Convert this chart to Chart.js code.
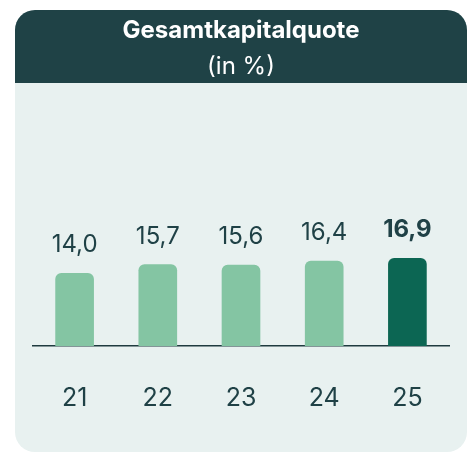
<!DOCTYPE html>
<html>
<head>
<meta charset="utf-8">
<script src="https://cdn.jsdelivr.net/npm/chart.js@4.4.0/dist/chart.umd.min.js"></script>
<style>
  html, body { margin: 0; padding: 0; background: #ffffff; }
  #wrap { width: 474px; height: 452px; }
</style>
</head>
<body>
<div id="wrap"><canvas id="quoteChart" width="474" height="452"></canvas></div>
<script>
var years = ["21", "22", "23", "24", "25"];
var quote = [14.0, 15.7, 15.6, 16.4, 16.9];
var barColors = ['#84c5a3', '#84c5a3', '#84c5a3', '#84c5a3', '#0c6653'];

var textColor = '#1f4146';

function fmt(v) {
    return v.toFixed(1).replace('.', ',');
}

// card background with dark header
var cardPlugin = {
    id: 'card',
    beforeDraw: function (chart) {
        var c = chart.ctx;
        c.save();
        c.beginPath();
        c.roundRect(15, 10, 452, 442, 20);
        c.fillStyle = '#e8f1f0';
        c.fill();
        c.beginPath();
        c.roundRect(15, 10, 452, 73, [20, 20, 0, 0]);
        c.fillStyle = '#1f4246';
        c.fill();
        c.restore();
    }
};

// value labels on top of the bars
var valuePlugin = {
    id: 'values',
    afterDatasetsDraw: function (chart) {
        var c = chart.ctx;
        var meta = chart.getDatasetMeta(0);
        c.save();
        c.fillStyle = textColor;
        c.textAlign = 'center';
        c.textBaseline = 'alphabetic';
        meta.data.forEach(function (bar, i) {
            var last = i === quote.length - 1;
            c.font = (last ? 'bold ' : '') + '24px Inter';
            c.fillText(fmt(quote[i]), bar.x, bar.y - 21);
        });
        c.restore();
    }
};

var ctx = document.getElementById('quoteChart').getContext('2d');

var chart = new Chart(ctx, {
    type: 'bar',
    data: {
        labels: years,
        datasets: [{
            data: quote,
            backgroundColor: barColors,
            borderRadius: 6,
            borderSkipped: 'start',
            barThickness: 38
        }]
    },
    options: {
        responsive: false,
        animation: false,
        layout: {
            padding: { left: 33, right: 25, top: 0, bottom: 2 }
        },
        plugins: {
            legend: { display: false },
            tooltip: { enabled: false },
            title: {
                display: true,
                text: 'Gesamtkapitalquote',
                color: '#ffffff',
                font: { family: 'Inter', size: 24, weight: 'bold' },
                padding: { top: 16, bottom: 6 }
            },
            subtitle: {
                display: true,
                text: '(in %)',
                color: '#ffffff',
                font: { family: 'Inter', size: 24, weight: 'normal' },
                padding: { top: 2, bottom: 57 }
            }
        },
        scales: {
            x: {
                grid: { display: false, drawTicks: false },
                border: { display: true, color: '#1f3b3f', width: 1.5 },
                ticks: {
                    color: textColor,
                    font: { family: 'Inter', size: 25 },
                    padding: 37
                }
            },
            y: {
                display: false,
                min: 0,
                max: 40
            }
        }
    },
    plugins: [cardPlugin, valuePlugin]
});
</script>
</body>
</html>
